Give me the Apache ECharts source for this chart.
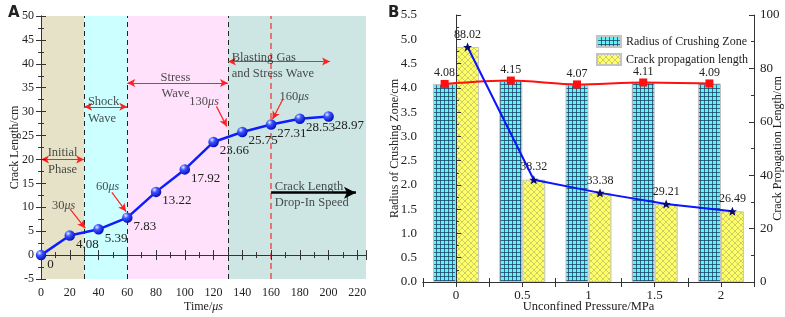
<!DOCTYPE html>
<html>
<head>
<meta charset="utf-8">
<script src="https://cdn.jsdelivr.net/npm/echarts@6/dist/echarts.min.js"></script>
<style>
  html, body { margin: 0; padding: 0; background: #fff; }
  #main { width: 785px; height: 317px; }
</style>
</head>
<body>
<div id="main"></div>
<script>
  // panel A data
  var times = [0, 20, 40, 60, 80, 100, 120, 140, 160, 180, 200];
  var crackLength = [0, 4.08, 5.39, 7.83, 13.22, 17.92, 23.66, 25.75, 27.31, 28.53, 28.97];
  var phaseEdges = [0, 30, 60, 130, 226];
  var phaseColors = ['#e5e2c7', '#ccffff', '#ffe1fb', '#cde6e3'];

  // panel B data
  var pressure = ['0', '0.5', '1', '1.5', '2'];
  var crushRadius = [4.08, 4.15, 4.07, 4.11, 4.09];
  var crackProp = [88.02, 38.32, 33.38, 29.21, 26.49];

  var serif = 'Liberation Serif';
  var mu = { i: { fontStyle: 'italic', fontFamily: serif, fontSize: 12, color: '#222' } };

  // text notes on panel A: [text, x, y, align]
  var notes = [
    ['Initial', 15, 21.9, 'center'],
    ['Phase', 15, 18.4, 'center'],
    ['Shock', 32.6, 32.6, 'left'],
    ['Wave', 32.6, 29.1, 'left'],
    ['Stress', 93.5, 37.7, 'center'],
    ['Wave', 93.5, 34.3, 'center'],
    ['Blasting Gas', 132.6, 41.8, 'left'],
    ['and Stress Wave', 132.6, 38.5, 'left'],
    ['30{i|μs}', 15.7, 10.9, 'center'],
    ['60{i|μs}', 46.3, 14.8, 'center'],
    ['130{i|μs}', 113.4, 32.6, 'center'],
    ['160{i|μs}', 176, 33.6, 'center'],
    ['Crack Length', 162.6, 14.8, 'left'],
    ['Drop-In Speed', 162.6, 11.4, 'left']
  ];

  // arrows on panel A: [x1, y1, x2, y2, color, twoHeads]
  var arrows = [
    [0, 20, 30, 20, '#ff2020', true],
    [30, 31, 60, 31, '#ff2020', true],
    [60, 36, 130, 36, '#ff2020', true],
    [130, 40.5, 201, 40.5, '#ff2020', true],
    [20.3, 9.6, 30.8, 5.6, '#ff2020', false],
    [49.3, 13.1, 59.2, 9.1, '#ff2020', false],
    [122, 31.1, 129.2, 26.9, '#ff2020', false],
    [168, 32.5, 161, 28.4, '#ff2020', false],
    [160, 13.06, 219, 13.06, '#000000', false]
  ];

  function makePattern(kind) {
    var c = document.createElement('canvas');
    var ctx = c.getContext('2d');
    if (kind === 'grid') {
      c.width = 4; c.height = 4;
      ctx.fillStyle = '#5ff5f5';
      ctx.fillRect(0, 0, 4, 4);
      ctx.fillStyle = 'rgba(25,60,100,0.75)';
      ctx.fillRect(0, 0, 4, 1);
      ctx.fillRect(0, 0, 1, 4);
    } else {
      c.width = 6; c.height = 6;
      ctx.fillStyle = '#ffff66';
      ctx.fillRect(0, 0, 6, 6);
      ctx.strokeStyle = 'rgba(140,140,110,0.6)';
      ctx.lineWidth = 0.7;
      ctx.beginPath();
      ctx.moveTo(0, 0); ctx.lineTo(6, 6);
      ctx.moveTo(6, 0); ctx.lineTo(0, 6);
      ctx.stroke();
    }
    return { image: c, repeat: 'repeat' };
  }

  var chart = echarts.init(document.getElementById('main'));

  var axisLine = { show: true, lineStyle: { color: '#333', width: 1 } };
  var tickIn = { show: true, inside: true, length: 5, lineStyle: { color: '#333' } };
  var minorIn = { show: true, splitNumber: 2, length: 3, lineStyle: { color: '#333' } };
  var labelStyle = { fontFamily: serif, fontSize: 12, color: '#222' };
  var nameStyle = { fontFamily: serif, fontSize: 12, color: '#222' };

  var lineA = times.map(function (t, i) { return [t, crackLength[i]]; });

  var areaData = phaseColors.map(function (c, i) {
    return [{ xAxis: phaseEdges[i], itemStyle: { color: c } }, { xAxis: phaseEdges[i + 1] }];
  });

  var arrowData = arrows.map(function (a) {
    var big = a[4] === '#000000';
    return [
      { coord: [a[0], a[1]], symbol: a[5] ? 'arrow' : 'none', symbolSize: [6, 8],
        lineStyle: { color: a[4], width: big ? 2.5 : 1.2, type: 'solid' } },
      { coord: [a[2], a[3]], symbol: 'arrow', symbolSize: big ? [9, 12] : [6, 8] }
    ];
  });

  var noteData = notes.map(function (n) {
    return { value: [n[1], n[2]], label: { formatter: n[0], align: n[3] } };
  });

  var offs = 0.1735;
  var redLine = crushRadius.map(function (v, i) { return [i - offs, v]; });
  var blueLine = crackProp.map(function (v, i) { return [i + offs, v]; });

  chart.setOption({
    animation: false,
    title: [
      { text: 'A', left: 3, top: 1, textStyle: { fontFamily: 'DejaVu Sans', fontWeight: 'bold', fontSize: 15, color: '#222' } },
      { text: 'B', left: 383, top: 1, textStyle: { fontFamily: 'DejaVu Sans', fontWeight: 'bold', fontSize: 15, color: '#222' } }
    ],
    legend: {
      data: ['Radius of Crushing Zone', 'Crack propagation length'],
      orient: 'vertical', left: 591, top: 30,
      itemWidth: 24, itemHeight: 11, itemGap: 5, icon: 'rect',
      textStyle: { fontFamily: serif, fontSize: 12, color: '#222' }
    },
    grid: [
      { left: 41, top: 16, width: 325, height: 263, outerBoundsMode: 'none', containLabel: false },
      { left: 423, top: 15, width: 331, height: 267, outerBoundsMode: 'none', containLabel: false }
    ],
    xAxis: [
      { type: 'value', gridIndex: 0, min: 0, max: 226, interval: 20, z: 5,
        axisLine: axisLine, axisTick: tickIn, minorTick: minorIn, splitLine: { show: false },
        axisLabel: Object.assign({ showMaxLabel: false, margin: 8 }, labelStyle),
        name: 'Time/{i|μs}', nameLocation: 'middle', nameGap: 22, nameMoveOverlap: false,
        nameTextStyle: Object.assign({ rich: mu }, nameStyle) },
      { type: 'value', gridIndex: 0, position: 'top', min: 0, max: 226, interval: 20, z: 5,
        axisLine: axisLine, axisTick: tickIn, minorTick: minorIn, splitLine: { show: false },
        axisLabel: { show: false } },
      { type: 'category', gridIndex: 1, data: pressure, z: 5,
        axisLine: axisLine, axisTick: { show: true, inside: true, length: 4, lineStyle: { color: '#333' } },
        axisLabel: Object.assign({ margin: 7 }, labelStyle, { fontSize: 13 }),
        name: 'Unconfined Pressure/MPa', nameLocation: 'middle', nameGap: 18, nameMoveOverlap: false,
        nameTextStyle: Object.assign({}, nameStyle, { fontSize: 12.5 }) },
      { type: 'value', gridIndex: 1, position: 'top', min: -0.5, max: 4.5, interval: 0.5, z: 5,
        axisLine: axisLine, axisTick: tickIn, splitLine: { show: false }, axisLabel: { show: false } }
    ],
    yAxis: [
      { type: 'value', gridIndex: 0, min: -5, max: 50, interval: 5, z: 5,
        axisLine: axisLine, axisTick: tickIn, minorTick: minorIn, splitLine: { show: false },
        axisLabel: Object.assign({ margin: 7 }, labelStyle),
        name: 'Crack Length/cm', nameLocation: 'middle', nameGap: 20, nameMoveOverlap: false,
        nameTextStyle: nameStyle },
      { type: 'value', gridIndex: 0, position: 'right', min: -5, max: 50, interval: 5, z: 5,
        axisLine: axisLine, axisTick: tickIn, minorTick: minorIn, splitLine: { show: false },
        axisLabel: { show: false } },
      { type: 'value', gridIndex: 1, min: 0, max: 5.5, interval: 0.5, z: 5,
        axisLine: axisLine, axisTick: tickIn, minorTick: minorIn, splitLine: { show: false },
        axisLabel: Object.assign({ margin: 6, formatter: function (v) { return v.toFixed(1); } }, labelStyle, { fontSize: 13 }),
        name: 'Radius of Crushing Zone/cm', nameLocation: 'middle', nameGap: 22, nameMoveOverlap: false,
        nameTextStyle: nameStyle },
      { type: 'value', gridIndex: 1, position: 'right', min: 0, max: 100, interval: 20, z: 5,
        axisLine: axisLine, axisTick: tickIn, minorTick: minorIn, splitLine: { show: false },
        axisLabel: Object.assign({ margin: 6 }, labelStyle, { fontSize: 13 }),
        name: 'Crack Propagation Length/cm', nameLocation: 'middle', nameGap: 18, nameRotate: 90,
        nameMoveOverlap: false, nameTextStyle: nameStyle }
    ],
    series: [
      { type: 'line', xAxisIndex: 0, yAxisIndex: 0, data: [], silent: true,
        markArea: { silent: true, data: areaData },
        markLine: { silent: true, symbol: 'none', label: { show: false },
          data: [
            { xAxis: 30, lineStyle: { color: '#222', type: [5, 4], width: 1 } },
            { xAxis: 60, lineStyle: { color: '#222', type: [5, 4], width: 1 } },
            { xAxis: 130, lineStyle: { color: '#222', type: [5, 4], width: 1 } },
            { xAxis: 160, lineStyle: { color: '#f05050', type: [6, 4], width: 1.5 } }
          ] } },
      { type: 'line', xAxisIndex: 0, yAxisIndex: 0, data: [], silent: true, z: 4,
        markLine: { silent: true, label: { show: false }, data: arrowData } },
      { type: 'line', xAxisIndex: 0, yAxisIndex: 0, data: lineA, z: 6,
        lineStyle: { color: '#0d1dff', width: 2.5 },
        symbol: 'circle', symbolSize: 10.5,
        itemStyle: { color: { type: 'radial', x: 0.35, y: 0.3, r: 0.75,
          colorStops: [{ offset: 0, color: '#e8ecff' }, { offset: 0.35, color: '#3c55ff' }, { offset: 1, color: '#0008b8' }] } },
        label: { show: true, position: 'right', distance: 1, offset: [0, 9],
          fontFamily: serif, fontSize: 13, color: '#222' } },
      { type: 'scatter', xAxisIndex: 0, yAxisIndex: 0, data: noteData, symbolSize: 0, silent: true, z: 7,
        label: { show: true, position: 'inside', offset: [0, 2.5], fontFamily: serif, fontSize: 12.5, color: '#222', rich: mu } },

      { name: 'Radius of Crushing Zone', type: 'bar', xAxisIndex: 2, yAxisIndex: 2, data: crushRadius,
        barWidth: 23, barGap: '0%',
        itemStyle: { color: makePattern('grid'), borderColor: '#c4c4c4', borderWidth: 1 } },
      { name: 'Crack propagation length', type: 'bar', xAxisIndex: 2, yAxisIndex: 3, data: crackProp,
        barWidth: 23, barGap: '0%',
        itemStyle: { color: makePattern('cross'), borderColor: '#c4c4c4', borderWidth: 1 } },
      { type: 'line', xAxisIndex: 3, yAxisIndex: 2, data: redLine, smooth: 0.3, z: 6,
        lineStyle: { color: '#ff1010', width: 2 }, symbol: 'rect', symbolSize: 8,
        itemStyle: { color: '#ff1010' },
        label: { show: true, position: 'top', distance: 1, fontFamily: serif, fontSize: 12, color: '#222',
          formatter: function (p) { return p.value[1].toFixed(2); } } },
      { type: 'line', xAxisIndex: 3, yAxisIndex: 3, data: blueLine, z: 6,
        lineStyle: { color: '#0a14ff', width: 2 }, symbol: 'path://M0,-10 L2.9,-3.1 L9.5,-3.1 L4.3,1.2 L6.2,8 L0,4 L-6.2,8 L-4.3,1.2 L-9.5,-3.1 L-2.9,-3.1 Z',
        symbolSize: 9, itemStyle: { color: '#0a0a70' },
        label: { show: true, position: 'top', distance: 2, fontFamily: serif, fontSize: 12, color: '#222',
          formatter: function (p) { return p.value[1].toFixed(2); } } }
    ]
  });
</script>
</body>
</html>
